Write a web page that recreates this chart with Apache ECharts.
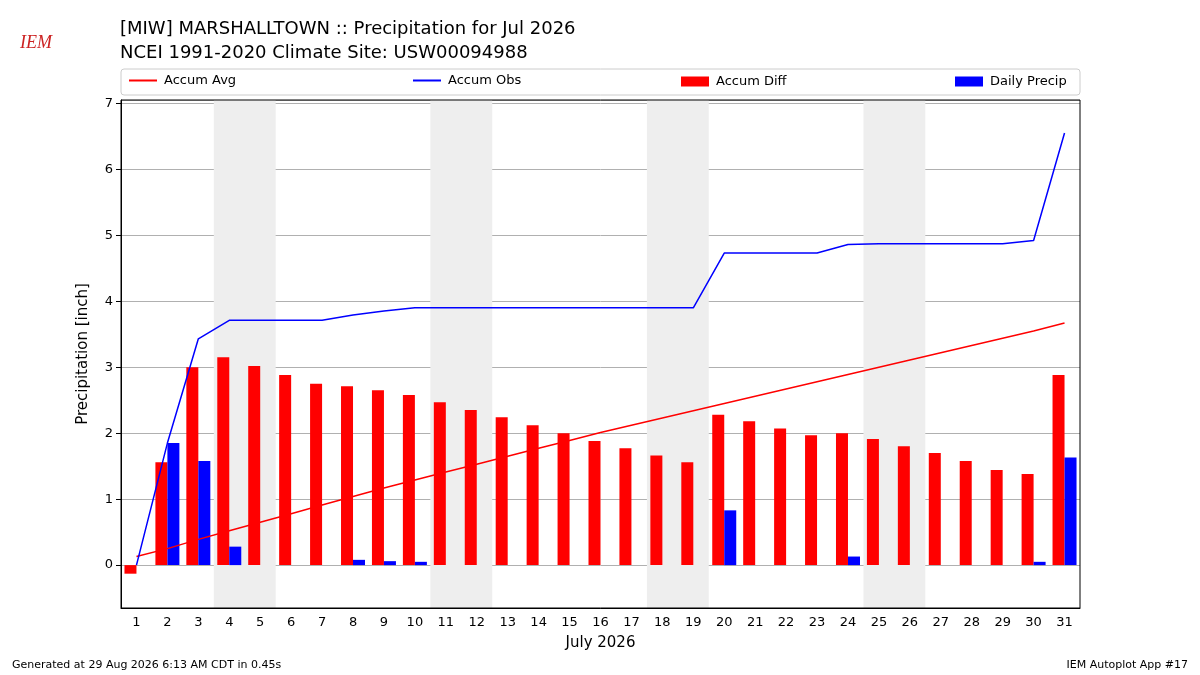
<!DOCTYPE html>
<html><head><meta charset="utf-8">
<script src="https://cdn.jsdelivr.net/npm/echarts@6/dist/echarts.min.js"></script>
<style>body{margin:0}#c{width:1200px;height:675px}</style></head>
<body><div id="c"></div>
<script>
var days = [];
for (var i = 1; i <= 31; i++) days.push(String(i));
var accumAvg = [0.13,0.25,0.39,0.52,0.65,0.78,0.91,1.04,1.17,1.29,1.41,1.53,1.65,1.77,1.89,2.01,2.12,2.23,2.34,2.45,2.56,2.67,2.78,2.89,3.00,3.11,3.22,3.33,3.44,3.55,3.67];
var accumObs = [0.00,1.85,3.43,3.71,3.71,3.71,3.71,3.79,3.85,3.90,3.90,3.90,3.90,3.90,3.90,3.90,3.90,3.90,3.90,4.73,4.73,4.73,4.73,4.86,4.87,4.87,4.87,4.87,4.87,4.92,6.55];
var accumDiff = [-0.13,1.56,3.00,3.15,3.02,2.88,2.75,2.71,2.65,2.58,2.47,2.35,2.24,2.12,2.00,1.88,1.77,1.66,1.56,2.28,2.18,2.07,1.97,2.00,1.91,1.80,1.70,1.58,1.44,1.38,2.88];
var dailyPrecip = [0,1.85,1.58,0.28,0,0,0,0.08,0.06,0.05,0,0,0,0,0,0,0,0,0,0.83,0,0,0,0.13,0,0,0,0,0,0.05,1.63];
var weekends = [[3.5,5.5],[10.5,12.5],[17.5,19.5],[24.5,26.5]];

var font = 'DejaVu Sans';
var chart = echarts.init(document.getElementById('c'));
function leg(name, left, isLine) {
  return {data: [{name: name, icon: 'rect'}], left: left, top: isLine ? 69 : 70, itemWidth: 28, itemHeight: isLine ? 2 : 10,
    textStyle: {fontFamily: font, fontSize: 13, color: '#000', padding: [0, 0, 0, 2]}};
}
chart.setOption({
  animation: false,
  textStyle: {fontFamily: font},
  title: {text: '[MIW] MARSHALLTOWN :: Precipitation for Jul 2026\nNCEI 1991-2020 Climate Site: USW00094988',
    left: 115, top: 12, textStyle: {fontFamily: font, fontSize: 18, fontWeight: 'normal', color: '#000', lineHeight: 24}},
  legend: [leg('Accum Avg', 124, true), leg('Accum Obs', 408, true), leg('Accum Diff', 676, false), leg('Daily Precip', 950, false)],
  grid: {left: 121, right: 120, top: 100, bottom: 67},
  xAxis: [{type: 'category', data: days, name: 'July 2026', nameLocation: 'middle', nameGap: 28,
    nameTextStyle: {fontSize: 15, color: '#000'},
    axisLine: {onZero: false, lineStyle: {color: '#000'}}, axisTick: {alignWithLabel: true, lineStyle: {color: '#000'}},
    axisLabel: {color: '#000', fontSize: 13}},
    {type: 'value', min: 0.5, max: 31.5, show: false}],
  yAxis: {type: 'value', min: -0.65, max: 7.05, splitNumber: 8, name: 'Precipitation [inch]', nameLocation: 'middle', nameGap: 30,
    nameTextStyle: {fontSize: 15, color: '#000'},
    axisLine: {show: true, lineStyle: {color: '#000'}}, axisTick: {show: true, lineStyle: {color: '#000'}},
    axisLabel: {color: '#000', fontSize: 13, showMinLabel: false, showMaxLabel: false},
    splitLine: {lineStyle: {color: '#b0b0b0'}}},
  series: [
    {type: 'line', xAxisIndex: 1, data: [], silent: true,
      markArea: {silent: true, itemStyle: {color: '#eeeeee'},
        data: weekends.map(function (w) { return [{xAxis: w[0]}, {xAxis: w[1]}]; })}},
    {name: 'Accum Diff', type: 'bar', data: accumDiff, barWidth: 12, barGap: '0%', itemStyle: {color: '#ff0000'}, z: 3},
    {name: 'Daily Precip', type: 'bar', data: dailyPrecip, barWidth: 12, barGap: '0%', itemStyle: {color: '#0000ff'}, z: 3},
    {name: 'Accum Avg', type: 'line', data: accumAvg, showSymbol: false, symbol: 'none', lineStyle: {color: '#ff0000', width: 1.5}, itemStyle: {color: '#ff0000'}, z: 4},
    {name: 'Accum Obs', type: 'line', data: accumObs, showSymbol: false, symbol: 'none', lineStyle: {color: '#0000ff', width: 1.5}, itemStyle: {color: '#0000ff'}, z: 4}
  ],
  graphic: [
    {type: 'rect', shape: {x: 121, y: 69, width: 959, height: 26, r: 3}, style: {fill: 'none', stroke: '#cccccc'}},
    {type: 'rect', shape: {x: 121, y: 100, width: 959, height: 508}, style: {fill: 'none', stroke: '#000'}, z: 10},
    {type: 'text', left: 12, top: 660, style: {text: 'Generated at 29 Aug 2026 6:13 AM CDT in 0.45s', font: '11px DejaVu Sans', fill: '#000'}},
    {type: 'text', right: 12, top: 660, style: {text: 'IEM Autoplot App #17', font: '11px DejaVu Sans', fill: '#000'}},
    {type: 'text', left: 20, top: 34, style: {text: 'IEM', font: 'italic 18px Liberation Serif', fill: '#cc2222'}}
  ]
});
</script></body></html>
